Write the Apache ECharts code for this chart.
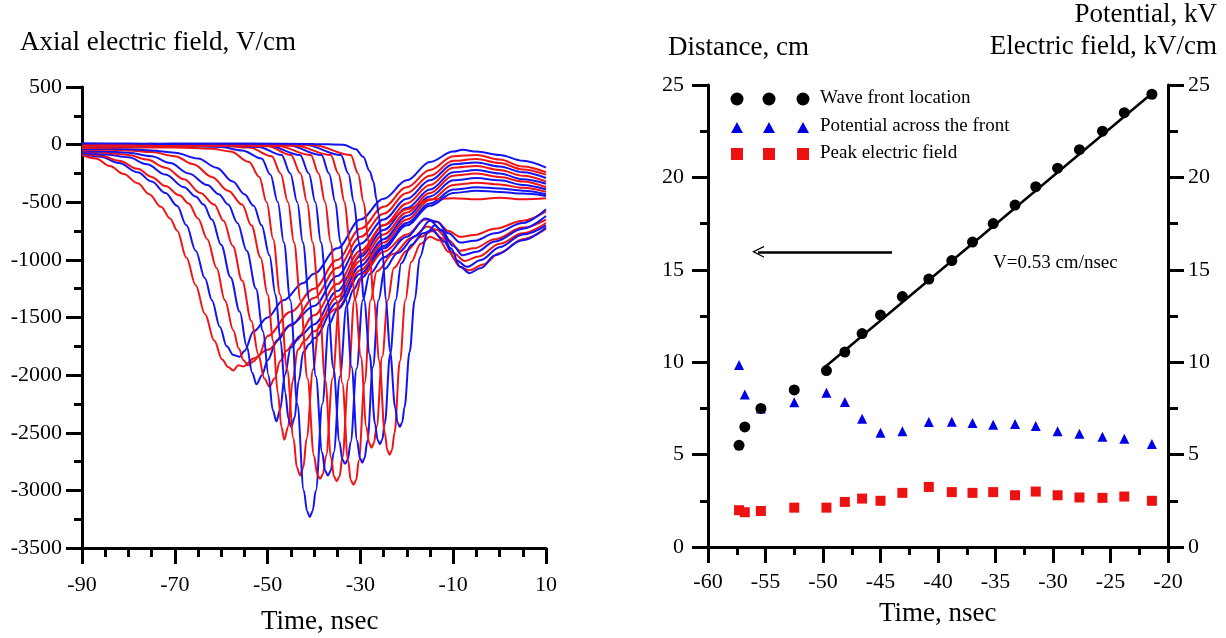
<!DOCTYPE html>
<html><head><meta charset="utf-8">
<script src="https://cdn.jsdelivr.net/npm/echarts@6/dist/echarts.min.js"></script>
<style>html,body{margin:0;padding:0;background:#fff}#c{width:1226px;height:638px}</style>
</head><body><div id="c"></div>
<script>
// ---------- Left panel: axial electric field waveforms (time ns, field V/cm) ----------
const c00 = [[-90,-90],[-87,-120],[-84,-185],[-81,-255],[-78,-335],[-75.5,-430],[-73,-540],[-71,-640],[-69.5,-745],[-67.5,-980],[-65.5,-1220],[-63.5,-1470],[-61.5,-1700],[-59.8,-1865],[-58.5,-1930],[-57.4,-1960],[-56.3,-1915],[-55.2,-1925],[-53,-1855],[-50,-1780],[-45,-1570],[-40,-1330],[-35,-1070],[-30,-800],[-25,-600],[-20,-420],[-15,-270],[-10,-140],[-5,-125],[0,-160],[5,-215],[10,-260]];
const c01 = [[-90,-80],[-86,-105],[-82,-160],[-78,-240],[-75,-320],[-72,-420],[-69.5,-530],[-67.5,-700],[-65.5,-920],[-63.5,-1160],[-62,-1350],[-60.3,-1580],[-58.8,-1750],[-57.4,-1825],[-56,-1840],[-55,-1790],[-53,-1620],[-50,-1500],[-46.6,-1350],[-42.3,-1200],[-40,-1120],[-35,-900],[-30,-650],[-25,-470],[-20,-310],[-15,-150],[-10,-60],[-8,-45],[-5,-60],[0,-90],[5,-140],[10,-200]];
const c02 = [[-90,-75],[-86,-95],[-82,-140],[-78,-210],[-75,-280],[-72,-360],[-69,-440],[-67,-510],[-65,-640],[-63,-820],[-61,-1070],[-59.2,-1350],[-57.4,-1610],[-56.2,-1770],[-55.2,-1870],[-54.2,-1915],[-53,-1880],[-52,-1840],[-50,-1660],[-45,-1450],[-40,-1250],[-35,-1000],[-30,-730],[-25,-540],[-20,-370],[-15,-220],[-10,-100],[-5,-90],[0,-130],[5,-190],[10,-240]];
const c03 = [[-90,-70],[-85,-85],[-80,-110],[-76,-170],[-72,-260],[-68,-370],[-65.5,-450],[-63.8,-520],[-62,-650],[-60,-870],[-58,-1150],[-56,-1450],[-54.5,-1750],[-53.3,-1980],[-52.4,-2080],[-51.2,-2000],[-50,-1870],[-48,-1700],[-45,-1560],[-40,-1400],[-35,-1140],[-30,-860],[-25,-650],[-20,-470],[-15,-310],[-10,-170],[-5,-155],[0,-190],[5,-240],[10,-290]];
const c04 = [[-90,-60],[-85,-70],[-80,-90],[-76,-130],[-72,-200],[-68,-300],[-64.5,-420],[-61.5,-520],[-59.5,-660],[-57.5,-880],[-55.5,-1180],[-53.5,-1530],[-52,-1820],[-50.7,-2030],[-49.6,-2100],[-48.5,-2030],[-47.3,-1880],[-46,-1790],[-44,-1700],[-40,-1480],[-35,-1210],[-30,-920],[-25,-700],[-20,-510],[-15,-350],[-10,-200],[-5,-185],[0,-220],[5,-270],[10,-320]];
const c05 = [[-90,-60],[-85,-60],[-80,-70],[-75,-100],[-71,-160],[-67,-250],[-63,-350],[-60.5,-430],[-58.5,-520],[-56.5,-680],[-54.5,-920],[-52.5,-1250],[-51,-1620],[-49.8,-2000],[-48.9,-2300],[-48.1,-2400],[-47.3,-2300],[-46.3,-2000],[-45,-1760],[-43,-1660],[-40,-1560],[-35,-1270],[-30,-970],[-25,-740],[-20,-550],[-15,-390],[-10,-240],[-5,-220],[0,-250],[5,-300],[10,-340]];
const c06 = [[-90,-50],[-85,-45],[-80,-50],[-75,-65],[-70,-100],[-66,-170],[-62,-280],[-58.5,-400],[-55.5,-520],[-53.5,-700],[-51.5,-980],[-50,-1300],[-48.8,-1700],[-47.8,-2150],[-47,-2450],[-46.4,-2560],[-45.6,-2450],[-44.6,-2050],[-43.5,-1780],[-42,-1700],[-40,-1620],[-35,-1320],[-30,-1010],[-25,-780],[-20,-590],[-15,-420],[-10,-270],[-5,-250],[0,-280],[5,-320],[10,-370]];
const c07 = [[-90,-40],[-85,-35],[-80,-40],[-75,-50],[-70,-70],[-65,-120],[-61,-200],[-57.5,-320],[-55,-430],[-53,-530],[-51.3,-700],[-49.6,-960],[-48.3,-1300],[-47.2,-1700],[-46.2,-2150],[-45.5,-2380],[-44.9,-2450],[-44.2,-2370],[-43.3,-2050],[-42.3,-1800],[-41,-1730],[-40,-1680],[-35,-1370],[-30,-1050],[-25,-820],[-20,-620],[-15,-450],[-10,-310],[-5,-290],[0,-310],[5,-350],[10,-390]];
const c08 = [[-90,-30],[-80,-25],[-70,-25],[-62,-35],[-58,-60],[-54,-150],[-51.8,-280],[-50.2,-500],[-48.8,-820],[-47.3,-1300],[-45.8,-1950],[-44.4,-2550],[-43.7,-2800],[-43,-2870],[-42.3,-2800],[-41.6,-2550],[-40.2,-1950],[-38.9,-1560],[-37.5,-1480],[-35,-1420],[-30,-1090],[-25,-850],[-20,-650],[-15,-480],[-10,-350],[-5,-330],[0,-345],[5,-375],[10,-410]];
const c09 = [[-90,-20],[-80,-15],[-70,-10],[-60,-20],[-55.5,-50],[-51.3,-120],[-49.4,-260],[-47.8,-500],[-46.5,-850],[-45.1,-1350],[-43.6,-2250],[-42.2,-3000],[-41.5,-3180],[-40.9,-3230],[-40.3,-3180],[-39.6,-3000],[-38.2,-2250],[-36.8,-1560],[-35,-1430],[-30,-1120],[-25,-880],[-20,-680],[-15,-510],[-10,-390],[-5,-370],[0,-380],[5,-400],[10,-430]];
const c10 = [[-90,-20],[-80,-15],[-70,-15],[-60,-10],[-54,-25],[-49.1,-100],[-47.2,-250],[-45.6,-500],[-44.3,-850],[-42.9,-1350],[-41.4,-2030],[-40,-2700],[-39.3,-2860],[-38.7,-2900],[-38.1,-2860],[-37.4,-2700],[-36,-2030],[-34.5,-1350],[-33,-1150],[-30,-950],[-25,-700],[-20,-560],[-15,-475],[-10,-465],[-5,-475],[0,-460],[5,-475],[10,-465]];
const c11 = [[-90,-10],[-80,-5],[-70,-5],[-60,-5],[-52,-20],[-47,-90],[-45.1,-250],[-43.6,-500],[-42.4,-850],[-41,-1350],[-39.6,-2010],[-38.25,-2670],[-37.6,-2830],[-37,-2870],[-36.4,-2830],[-35.75,-2670],[-34.4,-2010],[-33,-1400],[-31.5,-1260],[-30,-1160],[-25,-900],[-20,-700],[-15,-530],[-10,-420],[-5,-400],[0,-410],[5,-425],[10,-445]];
const c12 = [[-90,-10],[-80,-10],[-70,-5],[-60,-5],[-50,-15],[-45,-90],[-42.9,-250],[-41.5,-500],[-40.3,-850],[-38.9,-1350],[-37.6,-2040],[-36.3,-2720],[-35.7,-2880],[-35.1,-2920],[-34.5,-2880],[-33.9,-2720],[-32.6,-2040],[-31.3,-1350],[-29.5,-1120],[-25,-930],[-20,-780],[-16,-650],[-13.5,-670],[-11,-750],[-8.5,-800],[-5.5,-785],[-1,-730],[5,-660],[10,-580]];
const c13 = [[-90,0],[-80,5],[-70,0],[-60,0],[-50,-5],[-43,-90],[-41.1,-250],[-39.7,-500],[-38.5,-850],[-37.1,-1350],[-35.8,-1940],[-34.5,-2580],[-33.9,-2730],[-33.3,-2770],[-32.7,-2730],[-32.1,-2580],[-30.8,-1940],[-29.5,-1350],[-28,-1120],[-25,-980],[-20,-800],[-16,-640],[-13.5,-670],[-11,-770],[-8.5,-850],[-5.5,-835],[-1,-770],[5,-680],[10,-560]];
const c14 = [[-90,-5],[-80,-5],[-70,-5],[-60,0],[-48,-10],[-40.7,-90],[-39,-250],[-37.6,-500],[-36.4,-850],[-35.2,-1350],[-33.9,-2070],[-32.65,-2740],[-32.1,-2910],[-31.5,-2950],[-30.9,-2910],[-30.35,-2740],[-29.1,-2070],[-27.8,-1350],[-26.5,-1100],[-23,-950],[-19,-810],[-15.5,-710],[-13.5,-740],[-11,-830],[-8.5,-920],[-5.5,-900],[-1,-820],[5,-720],[10,-650]];
const c15 = [[-90,5],[-80,5],[-70,0],[-60,5],[-46,0],[-38.4,-90],[-36.75,-250],[-35.4,-500],[-34.3,-850],[-33.1,-1350],[-31.9,-1930],[-30.7,-2570],[-30.1,-2720],[-29.6,-2760],[-29.1,-2720],[-28.5,-2570],[-27.3,-1930],[-26.1,-1350],[-24.8,-1080],[-22,-940],[-18,-790],[-15,-660],[-12.5,-740],[-10,-880],[-8,-960],[-5,-930],[-1,-840],[5,-730],[10,-620]];
const c16 = [[-90,-5],[-80,-5],[-70,-5],[-55,-5],[-44,-10],[-36.4,-90],[-34.75,-250],[-33.4,-500],[-32.3,-850],[-31.1,-1350],[-29.9,-1840],[-28.7,-2450],[-28.1,-2590],[-27.6,-2630],[-27.1,-2590],[-26.5,-2450],[-25.3,-1840],[-24.1,-1350],[-22.8,-1070],[-20,-920],[-17,-800],[-14.5,-750],[-12.5,-810],[-10,-940],[-7.5,-1010],[-4.5,-970],[0,-860],[5,-770],[10,-680]];
const c17 = [[-90,10],[-80,5],[-70,10],[-55,5],[-42,0],[-34.2,-90],[-32.6,-250],[-31.4,-500],[-30.3,-850],[-29.2,-1350],[-28,-1820],[-26.85,-2420],[-26.3,-2560],[-25.8,-2600],[-25.3,-2560],[-24.75,-2420],[-23.6,-1820],[-22.4,-1350],[-21.2,-1030],[-19,-870],[-16.5,-770],[-14.5,-740],[-12,-840],[-9.5,-1000],[-7,-1060],[-4,-1000],[0,-890],[5,-780],[10,-700]];
const c18 = [[-90,-5],[-80,0],[-70,-5],[-55,-5],[-40,-5],[-32.1,-90],[-30.5,-250],[-29.3,-500],[-28.2,-850],[-27.1,-1350],[-25.9,-1880],[-24.75,-2500],[-24.2,-2650],[-23.7,-2690],[-23.2,-2650],[-22.65,-2500],[-21.5,-1880],[-20.3,-1350],[-19.1,-1020],[-17,-860],[-15,-800],[-13,-830],[-11,-930],[-8.5,-1060],[-6.5,-1090],[-3.5,-1040],[0,-940],[5,-820],[10,-730]];
const c19 = [[-90,10],[-80,10],[-70,5],[-55,10],[-40,5],[-33.7,0],[-31,-40],[-29.4,-106],[-28,-230],[-27.2,-320],[-26.5,-480],[-26.1,-600],[-25.3,-900],[-24.5,-1350],[-23.6,-1800],[-22.5,-2280],[-22,-2410],[-21.5,-2450],[-21,-2410],[-20.5,-2280],[-19.4,-1800],[-18.3,-1350],[-17.2,-980],[-15.5,-760],[-14,-700],[-12.5,-750],[-10.5,-900],[-8.5,-1060],[-6.5,-1115],[-4,-1070],[-1,-960],[5,-830],[10,-720]];
const curveColors = ['red','blue','red','blue','red','blue','red','blue','red','blue','red','blue','red','blue','red','blue','red','blue','red','blue'];

const leftTimeLabels = [-90, -70, -50, -30, -10, 10];
const leftTimeMinor = [-85,-80,-75,-65,-60,-55,-45,-40,-35,-25,-20,-15,-5,0,5];

// ---------- Right panel: front data ----------
const frontTime = [-57.3,-56.8,-55.4,-52.5,-49.7,-48.1,-46.6,-45.0,-43.1,-40.8,-38.8,-37.0,-35.2,-33.3,-31.5,-29.6,-27.7,-25.7,-23.8,-21.4];
const frontDistance = [5.5,6.5,7.5,8.5,9.55,10.55,11.55,12.55,13.55,14.5,15.5,16.5,17.5,18.5,19.5,20.5,21.5,22.5,23.5,24.5];
const frontPotential = [9.85,8.25,7.5,7.83,8.35,7.85,6.94,6.18,6.27,6.76,6.78,6.71,6.62,6.65,6.55,6.27,6.13,5.97,5.86,5.57];
const peakField = [1.99,1.88,1.95,2.13,2.13,2.44,2.62,2.5,2.93,3.25,2.97,2.93,2.97,2.8,3.0,2.8,2.68,2.66,2.73,2.5];
const fitLine = [[-49.8,9.75],[-21.2,24.65]];
const arrowFrom = [-44.0,15.97];
const arrowTo = [-55.65,15.97];

// ---------- build ----------
const FONT = '"Liberation Serif","Times New Roman",serif';
const BLUE = '#1414f0', RED = '#f01414';
const curves = [c00,c01,c02,c03,c04,c05,c06,c07,c08,c09,c10,c11,c12,c13,c14,c15,c16,c17,c18,c19];

const axisLineStyle = {color:'#000', width:3};
const labelStyle = {color:'#000', fontFamily:FONT, fontSize:22};
const plain = v => String(v);

const chart = echarts.init(document.getElementById('c'));

const series = curves.map((d, i) => ({
  type:'line', xAxisIndex:0, yAxisIndex:0, data:d, showSymbol:false, symbol:'none',
  smooth:0.35, smoothMonotone:'x', animation:false, silent:true,
  lineStyle:{color: curveColors[i]==='red'?RED:BLUE, width:2}
}));

series.push({
  type:'line', xAxisIndex:2, yAxisIndex:1, data:fitLine, symbol:'none', animation:false,
  lineStyle:{color:'#000', width:2.5},
  markLine:{silent:true, animation:false, symbol:['none','path://M0,0 L6,11 L4.6,11 L0,2.6 L-4.6,11 L-6,11 Z'], symbolSize:[12,12],
    lineStyle:{color:'#000', width:2.5, type:'solid'}, label:{show:false},
    data:[[{coord:arrowFrom},{coord:arrowTo}]]}
});
series.push({
  type:'scatter', xAxisIndex:2, yAxisIndex:1, symbol:'triangle', symbolSize:10, animation:false,
  itemStyle:{color:'#0000e6', opacity:1}, data: frontTime.map((t,i)=>[t, frontPotential[i]])
});
series.push({
  type:'scatter', xAxisIndex:2, yAxisIndex:1, symbol:'rect', symbolSize:10, animation:false,
  itemStyle:{color:'#ee1111', opacity:1}, data: frontTime.map((t,i)=>[t, peakField[i]])
});
series.push({
  type:'scatter', xAxisIndex:2, yAxisIndex:1, symbol:'circle', symbolSize:11, animation:false,
  itemStyle:{color:'#000', opacity:1}, data: frontTime.map((t,i)=>[t, frontDistance[i]])
});

const graphic = [
  {type:'text', left:20, top:29, style:{text:'Axial electric field, V/cm', font:'27px '+FONT, fill:'#000'}},
  {type:'text', left:261, top:608, style:{text:'Time, nsec', font:'27px '+FONT, fill:'#000'}},
  {type:'text', left:668, top:34, style:{text:'Distance, cm', font:'27px '+FONT, fill:'#000'}},
  {type:'text', right:9, top:1, style:{text:'Potential, kV', font:'27px '+FONT, fill:'#000'}},
  {type:'text', right:9, top:33, style:{text:'Electric field, kV/cm', font:'27px '+FONT, fill:'#000'}},
  {type:'text', left:879, top:600, style:{text:'Time, nsec', font:'27px '+FONT, fill:'#000'}},
  {type:'text', left:993, top:254, style:{text:'V=0.53 cm/nsec', font:'19px '+FONT, fill:'#000'}},
  // legend
  {type:'circle', shape:{cx:737, cy:99, r:6.5}, style:{fill:'#000'}},
  {type:'circle', shape:{cx:769, cy:99, r:6.5}, style:{fill:'#000'}},
  {type:'circle', shape:{cx:803, cy:99, r:6.5}, style:{fill:'#000'}},
  {type:'text', left:820, top:89, style:{text:'Wave front location', font:'19px '+FONT, fill:'#000'}},
  {type:'polygon', shape:{points:[[737,122],[743,133],[731,133]]}, style:{fill:'#0000e6'}},
  {type:'polygon', shape:{points:[[769,122],[775,133],[763,133]]}, style:{fill:'#0000e6'}},
  {type:'polygon', shape:{points:[[803,122],[809,133],[797,133]]}, style:{fill:'#0000e6'}},
  {type:'text', left:820, top:117, style:{text:'Potential across the front', font:'19px '+FONT, fill:'#000'}},
  {type:'rect', shape:{x:731, y:148, width:12, height:12}, style:{fill:'#ee1111'}},
  {type:'rect', shape:{x:763, y:148, width:12, height:12}, style:{fill:'#ee1111'}},
  {type:'rect', shape:{x:797, y:148, width:12, height:12}, style:{fill:'#ee1111'}},
  {type:'text', left:820, top:144, style:{text:'Peak electric field', font:'19px '+FONT, fill:'#000'}}
];

chart.setOption({
  animation:false,
  backgroundColor:'#fff',
  grid:[
    {left:82, top:87, width:464, height:461},
    {left:708, top:85, width:460, height:462}
  ],
  xAxis:[
    {gridIndex:0, type:'value', min:-90, max:10, interval:10, position:'bottom',
     axisLine:{show:true, onZero:false, lineStyle:axisLineStyle},
     axisTick:{show:true, length:16, lineStyle:{color:'#000', width:3}, customValues:leftTimeLabels},
     axisLabel:Object.assign({margin:26, customValues:leftTimeLabels, formatter:plain}, labelStyle),
     splitLine:{show:false}},
    {gridIndex:0, type:'value', min:-90, max:10, interval:10, position:'bottom',
     axisLine:{show:false, onZero:false},
     axisTick:{show:true, length:9, lineStyle:{color:'#000', width:3}, customValues:leftTimeMinor},
     axisLabel:{show:false}, splitLine:{show:false}},
    {gridIndex:1, type:'value', min:-60, max:-20, interval:5, position:'bottom',
     axisLine:{show:true, onZero:false, lineStyle:axisLineStyle},
     axisTick:{show:true, length:16, lineStyle:{color:'#000', width:3}},
     minorTick:{show:true, splitNumber:2, length:8, lineStyle:{color:'#000', width:3}},
     axisLabel:Object.assign({margin:24, formatter:plain}, labelStyle),
     splitLine:{show:false}}
  ],
  yAxis:[
    {gridIndex:0, type:'value', min:-3500, max:500, interval:500,
     axisLine:{show:true, onZero:false, lineStyle:axisLineStyle},
     axisTick:{show:true, length:16, lineStyle:{color:'#000', width:3}},
     minorTick:{show:true, splitNumber:2, length:8, lineStyle:{color:'#000', width:3}},
     axisLabel:Object.assign({margin:20, formatter:plain}, labelStyle),
     splitLine:{show:false}},
    {gridIndex:1, type:'value', min:0, max:25, interval:5, position:'left',
     axisLine:{show:true, onZero:false, lineStyle:axisLineStyle},
     axisTick:{show:true, length:16, lineStyle:{color:'#000', width:3}},
     minorTick:{show:true, splitNumber:2, length:8, lineStyle:{color:'#000', width:3}},
     axisLabel:Object.assign({margin:24, formatter:plain}, labelStyle),
     splitLine:{show:false}},
    {gridIndex:1, type:'value', min:0, max:25, interval:5, position:'right',
     axisLine:{show:true, onZero:false, lineStyle:axisLineStyle},
     axisTick:{show:true, length:16, lineStyle:{color:'#000', width:3}},
     minorTick:{show:true, splitNumber:2, length:10, lineStyle:{color:'#000', width:3}},
     axisLabel:Object.assign({margin:20, formatter:plain}, labelStyle),
     splitLine:{show:false}}
  ],
  series: series,
  graphic: graphic
});
</script>
</body></html>
